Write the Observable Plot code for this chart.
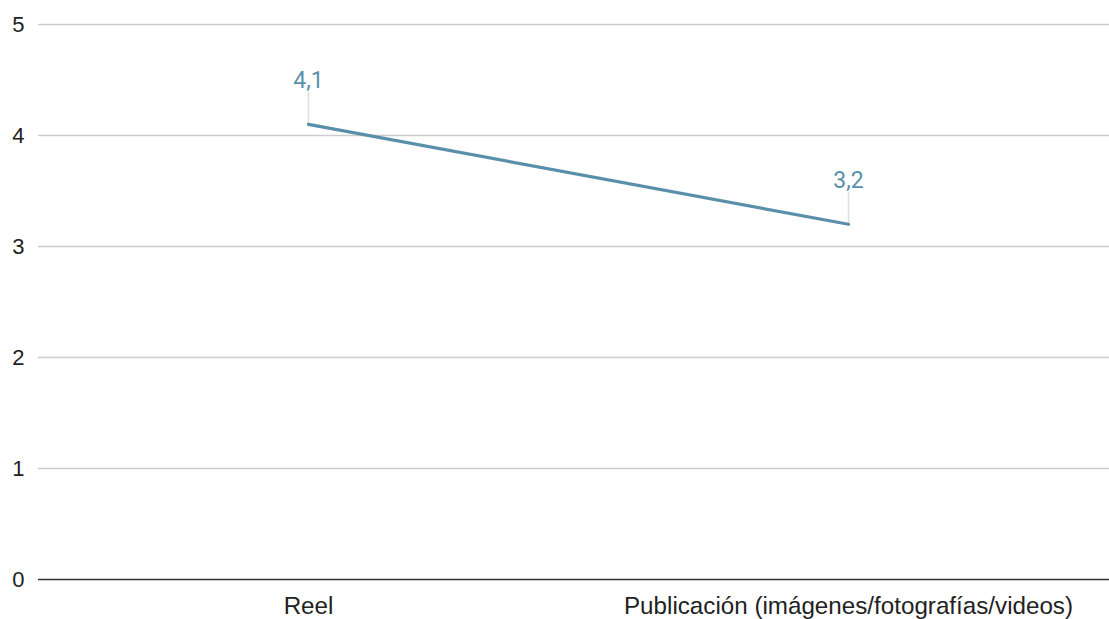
<!DOCTYPE html>
<html>
<head>
<meta charset="utf-8">
<script src="https://cdn.jsdelivr.net/npm/d3@7"></script>
<script src="https://cdn.jsdelivr.net/npm/@observablehq/plot@0.6"></script>
<style>
  html, body { margin: 0; padding: 0; background: #fff; }
  #chart svg { display: block; }
</style>
</head>
<body>
<div id="chart"></div>
<script>
// Categories and their average scores
const categories = ["Reel", "Publicación (imágenes/fotografías/videos)"];
const values = [4.1, 3.2];
const valueLabels = ["4,1", "3,2"];
const yTicks = [0, 1, 2, 3, 4, 5];

const data = categories.map((c, i) => ({category: c, value: values[i], label: valueLabels[i]}));

const lineColor = "#5a8fab";
const axisFont = "'Liberation Sans', Arial, sans-serif";

const chart = Plot.plot({
  width: 1109,
  height: 619,
  marginTop: 24,
  marginBottom: 40,
  marginLeft: 38,
  marginRight: -9,
  style: {fontFamily: axisFont, fontSize: "24px", color: "#222"},
  x: {type: "point", domain: categories, padding: 0.5, label: null},
  y: {domain: [0, 5], ticks: yTicks, label: null},
  marks: [
    Plot.ruleY(yTicks.filter(t => t > 0), {stroke: "#cccccc", strokeWidth: 1.3, strokeOpacity: 1}),
    Plot.ruleY([0], {stroke: "#333333", strokeWidth: 1.5}),
    Plot.axisY({ticks: yTicks, tickFormat: d3.format("d"), tickSize: 0, tickPadding: 14, fontSize: 22, fill: "#222", label: null}),
    Plot.axisX({tickSize: 0, tickPadding: 17, fontSize: 24.2, fill: "#222", label: null}),
    // leader lines from each point up to its value label
    Plot.ruleX(data, {x: "category", y1: "value", y2: "value", insetTop: -32, stroke: "#dddddd", strokeWidth: 1.5}),
    Plot.line(data, {x: "category", y: "value", stroke: lineColor, strokeWidth: 3.2}),
    Plot.text(data, {x: "category", y: "value", text: "label", dy: -44, fill: lineColor, fontSize: 23, fontFamily: "Roboto, sans-serif"})
  ]
});

document.getElementById("chart").append(chart);
</script>
</body>
</html>
